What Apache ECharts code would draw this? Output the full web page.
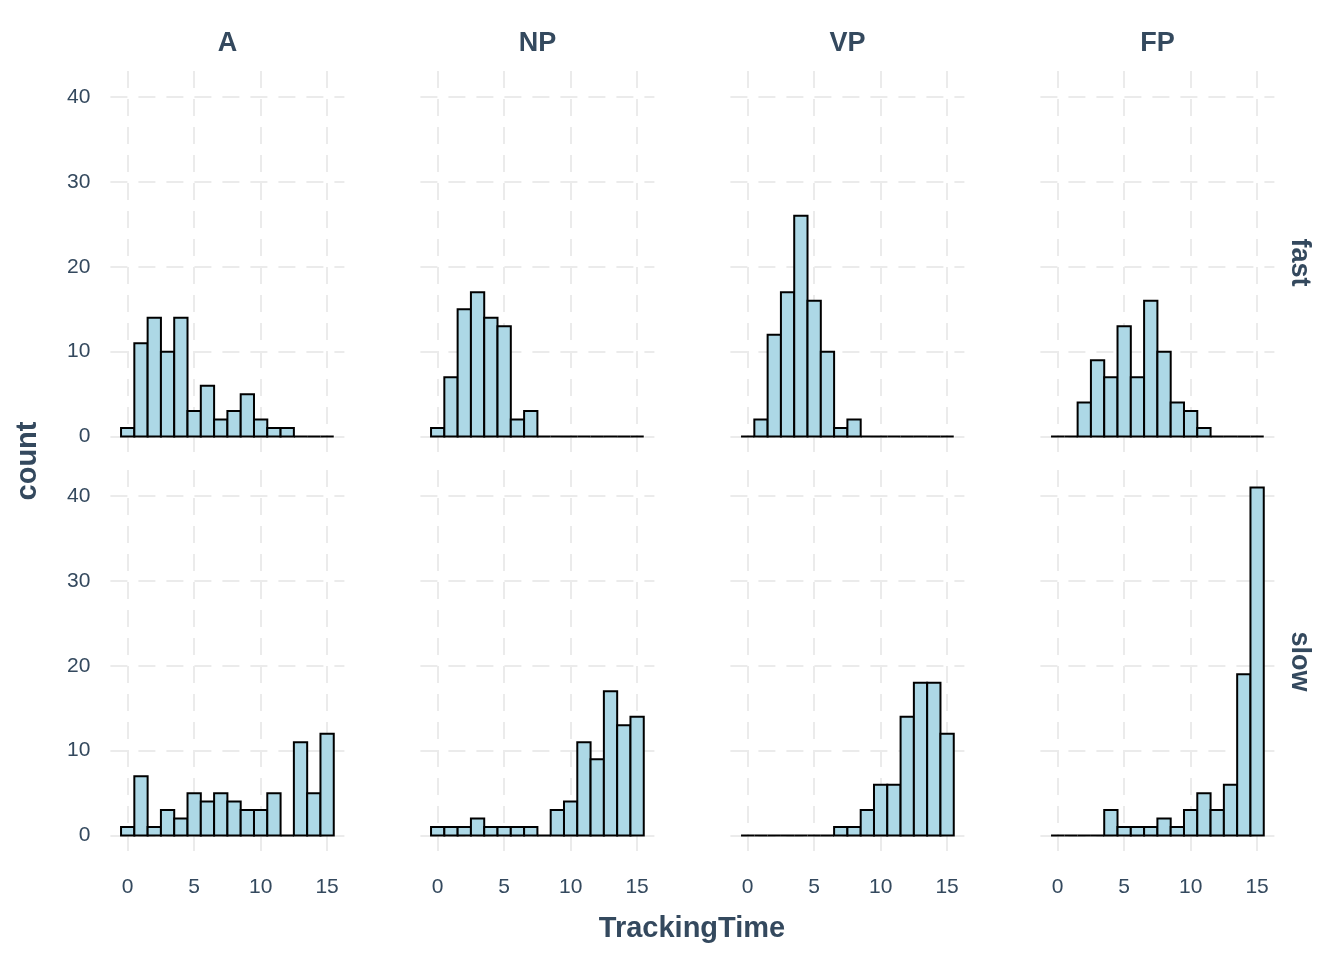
<!DOCTYPE html>
<html><head><meta charset="utf-8">
<script src="https://cdn.jsdelivr.net/npm/echarts@6/dist/echarts.min.js"></script>
<style>html,body{margin:0;padding:0;background:#fff}#c{width:1344px;height:960px}</style>
</head><body><div id="c"></div>
<script>
// bin centers (width 1)
const bins = [0,1,2,3,4,5,6,7,8,9,10,11,12,13,14,15];
const groups = ['A','NP','VP','FP'];
const speeds = ['fast','slow'];
const A_fast  = [1,11,14,10,14,3,6,2,3,5,2,1,1,0,0,0];
const NP_fast = [1,7,15,17,14,13,2,3,0,0,0,0,0,0,0,0];
const VP_fast = [0,2,12,17,26,16,10,1,2,0,0,0,0,0,0,0];
const FP_fast = [0,0,4,9,7,13,7,16,10,4,3,1,0,0,0,0];
const A_slow  = [1,7,1,3,2,5,4,5,4,3,3,5,0,11,5,12];
const NP_slow = [1,1,1,2,1,1,1,1,0,3,4,11,9,17,13,14];
const VP_slow = [0,0,0,0,0,0,0,1,1,3,6,6,14,18,18,12];
const FP_slow = [0,0,0,0,3,1,1,1,2,1,3,5,3,6,19,41];
const xTicks = [0,5,10,15];
const yTicks = [0,10,20,30,40];
const xLabel = 'TrackingTime';
const yLabel = 'count';

const panelData = {
  fast: [A_fast, NP_fast, VP_fast, FP_fast],
  slow: [A_slow, NP_slow, VP_slow, FP_slow]
};

const FONT = 'Liberation Sans, Arial, Helvetica, sans-serif';
const TXT = '#34495E';
const GRIDC = '#EBEBEB';

const chart = echarts.init(document.getElementById('c'), null, {renderer:'canvas'});
const grids = [], xAxes = [], yAxes = [], series = [];
const pLeft = 110.4, pStep = 310, pW = 234;
const pTops = [71, 470], pH = 383;

speeds.forEach((sp, r) => {
  groups.forEach((g, c) => {
    const idx = grids.length;
    grids.push({left: pLeft + pStep*c, top: pTops[r], width: pW, height: pH, containLabel:false});
    xAxes.push({
      type:'value', gridIndex: idx, min:-1.3, max:16.3,
      axisLine:{show:false},
      axisTick:{show:false, customValues: xTicks},
      axisLabel:{show: r === 1, customValues: xTicks, color: TXT, fontFamily: FONT, fontSize: 21, margin: 24},
      splitLine:{show:true, lineStyle:{color: GRIDC, width: 2, type:[17,11]}}
    });
    yAxes.push({
      type:'value', gridIndex: idx, min:-2.05, max:43.05,
      axisLine:{show:false},
      axisTick:{show:false, customValues: yTicks},
      axisLabel:{show: c === 0, customValues: yTicks, color: TXT, fontFamily: FONT, fontSize: 21, margin: 20},
      splitLine:{show:true, lineStyle:{color: GRIDC, width: 2, type:[17,11]}}
    });
    const vals = panelData[sp][c];
    series.push({
      type:'custom', xAxisIndex: idx, yAxisIndex: idx,
      data: bins.map((b,i)=>[b, vals[i]]),
      encode:{x:0, y:1},
      renderItem: (params, api) => {
        const x = api.value(0), y = api.value(1);
        const p0 = api.coord([x-0.5, 0]);
        const p1 = api.coord([x+0.5, y]);
        return {type:'rect', shape:{x:p0[0], y:p1[1], width:p1[0]-p0[0], height:p0[1]-p1[1]},
          style:{fill:'#ADD8E6', stroke:'#000', lineWidth:2}};
      }
    });
  });
});

const graphics = [];
groups.forEach((g, c) => {
  graphics.push({type:'text', x: pLeft + pStep*c + pW/2, y: 44,
    style:{text:g, fill: TXT, font: 'bold 27px ' + FONT, textAlign:'center', textVerticalAlign:'middle'}});
});
speeds.forEach((sp, r) => {
  graphics.push({type:'text', x: 1299, y: pTops[r] + pH/2, rotation: -Math.PI/2,
    style:{text:sp, fill: TXT, font: 'bold 27px ' + FONT, textAlign:'center', textVerticalAlign:'middle'}});
});
graphics.push({type:'text', x: 28, y: 461, rotation: Math.PI/2,
  style:{text: yLabel, fill: TXT, font: 'bold 29px ' + FONT, textAlign:'center', textVerticalAlign:'middle'}});
graphics.push({type:'text', x: 692, y: 929,
  style:{text: xLabel, fill: TXT, font: 'bold 29px ' + FONT, textAlign:'center', textVerticalAlign:'middle'}});

chart.setOption({
  backgroundColor:'#fff',
  animation:false,
  grid: grids, xAxis: xAxes, yAxis: yAxes, series: series,
  graphic: graphics
});
</script></body></html>
